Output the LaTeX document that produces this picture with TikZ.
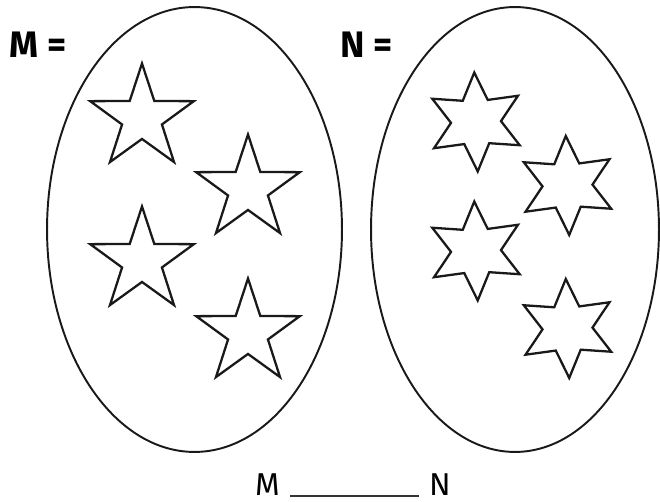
\documentclass[tikz,border=0pt]{standalone}
\usepackage{fontspec}
\setsansfont{Fira Sans}
\usetikzlibrary{shapes.geometric}

\begin{document}
\begin{tikzpicture}[x=0.02cm, y=-0.02cm,
  set/.style={draw=black!90, line width=1.1pt, ellipse, inner sep=0pt},
  fivestar/.style={draw=black!90, line width=1.3pt, star, star points=5,
    star point ratio=2.6, minimum size=2.18cm, inner sep=0pt},
  sixstar/.style={draw=black!90, line width=1.3pt, star, star points=6,
    star point ratio=1.98, minimum size=1.98cm, inner sep=0pt, shape border rotate=2},
  setlabel/.style={font=\sffamily\bfseries\fontsize{21}{24}\selectfont, inner sep=0pt},
  blanklabel/.style={font=\sffamily\fontsize{18}{21}\selectfont, inner sep=0pt}]
\useasboundingbox (0,0) rectangle (660,502);

% 集合 M（五角の星）
\node[set, minimum width=5.9cm, minimum height=8.9cm] (setM) at (194.5,229.5) {};
\node[setlabel] (labM) at (38,44.5) {M =};
\node[fivestar] (m1) at (142,118) {};
\node[fivestar] (m2) at (248,189) {};
\node[fivestar] (m3) at (142,261) {};
\node[fivestar] (m4) at (248,333) {};

% 集合 N（六角の星）
\node[set, minimum width=5.76cm, minimum height=8.9cm] (setN) at (515,229.5) {};
\node[setlabel] (labN) at (366.5,44.5) {N =};
\node[sixstar] (n1) at (476,122) {};
\node[sixstar] (n2) at (567.5,185.5) {};
\node[sixstar] (n3) at (476,251) {};
\node[sixstar] (n4) at (567.5,328.5) {};

% 空欄
\node[blanklabel, anchor=base] (bM) at (267.5,496) {M};
\node[blanklabel, anchor=base] (bN) at (440,496) {N};
\draw[black!80, line width=0.7pt] ([xshift=0.2cm]bM.base east) -- ([xshift=-0.19cm]bN.base west);
\end{tikzpicture}
\end{document}
